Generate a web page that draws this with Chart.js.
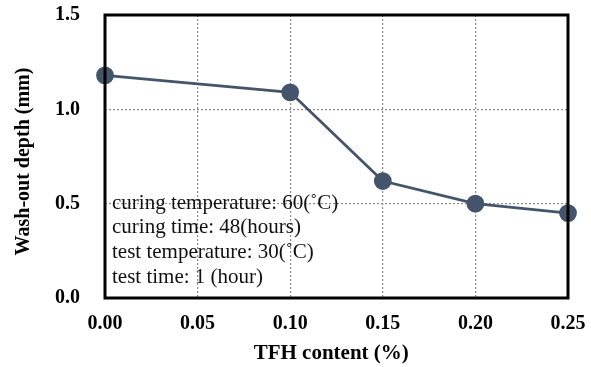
<!DOCTYPE html>
<html>
<head>
<meta charset="utf-8">
<script src="https://cdn.jsdelivr.net/npm/chart.js@4/dist/chart.umd.min.js"></script>
<style>
html,body{margin:0;padding:0;background:#fff;}
#wrap{width:591px;height:367px;}
</style>
</head>
<body>
<div id="wrap"><canvas id="c" width="591" height="367"></canvas></div>
<script>
const tfhContent = [0.00, 0.10, 0.15, 0.20, 0.25];
const washOutDepth = [1.18, 1.09, 0.62, 0.50, 0.45];
const xTicks = [0.00, 0.05, 0.10, 0.15, 0.20, 0.25];
const yTicks = [0.0, 0.5, 1.0, 1.5];
const noteLines = [
  'curing temperature: 60(\u02DAC)',
  'curing time: 48(hours)',
  'test temperature: 30(\u02DAC)',
  'test time: 1 (hour)'
];

const serif = '"Liberation Serif", "Times New Roman", serif';

const framePlugin = {
  id: 'frame',
  afterDatasetsDraw(chart) {
    const {ctx, chartArea: a} = chart;
    ctx.save();
    ctx.strokeStyle = '#000';
    ctx.lineWidth = 3;
    ctx.strokeRect(a.left, a.top, a.right - a.left, a.bottom - a.top);
    ctx.restore();
  }
};
const notePlugin = {
  id: 'notes',
  beforeDatasetsDraw(chart) {
    const {ctx, chartArea: a} = chart;
    ctx.save();
    ctx.font = '21px ' + serif;
    ctx.fillStyle = '#111';
    ctx.textBaseline = 'middle';
    ctx.textAlign = 'left';
    noteLines.forEach((t, i) => ctx.fillText(t, a.left + 7, a.top + 188 + i * 24.7));
    ctx.restore();
  }
};

new Chart(document.getElementById('c'), {
  type: 'scatter',
  data: {
    datasets: [{
      data: tfhContent.map((x, i) => ({x, y: washOutDepth[i]})),
      showLine: true,
      borderColor: '#44546A',
      backgroundColor: '#44546A',
      borderWidth: 2.8,
      pointRadius: 7.5,
      pointHoverRadius: 7.5,
      clip: false
    }]
  },
  options: {
    responsive: false,
    animation: false,
    devicePixelRatio: 1,
    layout: {autoPadding: false, padding: {left: 0, right: 0, top: 0, bottom: 0}},
    plugins: {legend: {display: false}, tooltip: {enabled: false}},
    scales: {
      x: {
        type: 'linear', min: 0, max: 0.25,
        afterBuildTicks(s) { s.ticks = xTicks.map(v => ({value: v})); },
        afterFit(s) { s.height = 69; s.paddingLeft = 0; s.paddingRight = 23; },
        ticks: {
          color: '#000', padding: 14,
          font: {family: serif, size: 20, weight: 'bold'},
          callback: v => v.toFixed(2)
        },
        grid: {
          color: c => (c.tick && (c.tick.value === 0 || c.tick.value === 0.25)) ? 'rgba(0,0,0,0)' : '#8a8a8a',
          lineWidth: 1.2, tickLength: 0, drawTicks: false
        },
        border: {display: false, dash: [2, 2]},
        title: {display: true, text: 'TFH content (%)  ', color: '#000',
          font: {family: serif, size: 21, weight: 'bold'}, padding: {top: 0, bottom: 1}}
      },
      y: {
        type: 'linear', min: 0, max: 1.5,
        afterBuildTicks(s) { s.ticks = yTicks.map(v => ({value: v})); },
        afterFit(s) { s.width = 105; s.paddingTop = 15; s.paddingBottom = 0; },
        ticks: {
          color: '#000', padding: 25,
          font: {family: serif, size: 20, weight: 'bold'},
          callback: v => v.toFixed(1)
        },
        grid: {
          color: c => (c.tick && (c.tick.value === 0 || c.tick.value === 1.5)) ? 'rgba(0,0,0,0)' : '#8a8a8a',
          lineWidth: 1.2, drawTicks: false
        },
        border: {display: false, dash: [2, 2]},
        title: {display: true, text: 'Wash-out depth (mm)  ', color: '#000',
          font: {family: serif, size: 20, weight: 'bold'}, padding: {top: 12, bottom: 0}}
      }
    }
  },
  plugins: [notePlugin, framePlugin]
});
</script>
</body>
</html>
